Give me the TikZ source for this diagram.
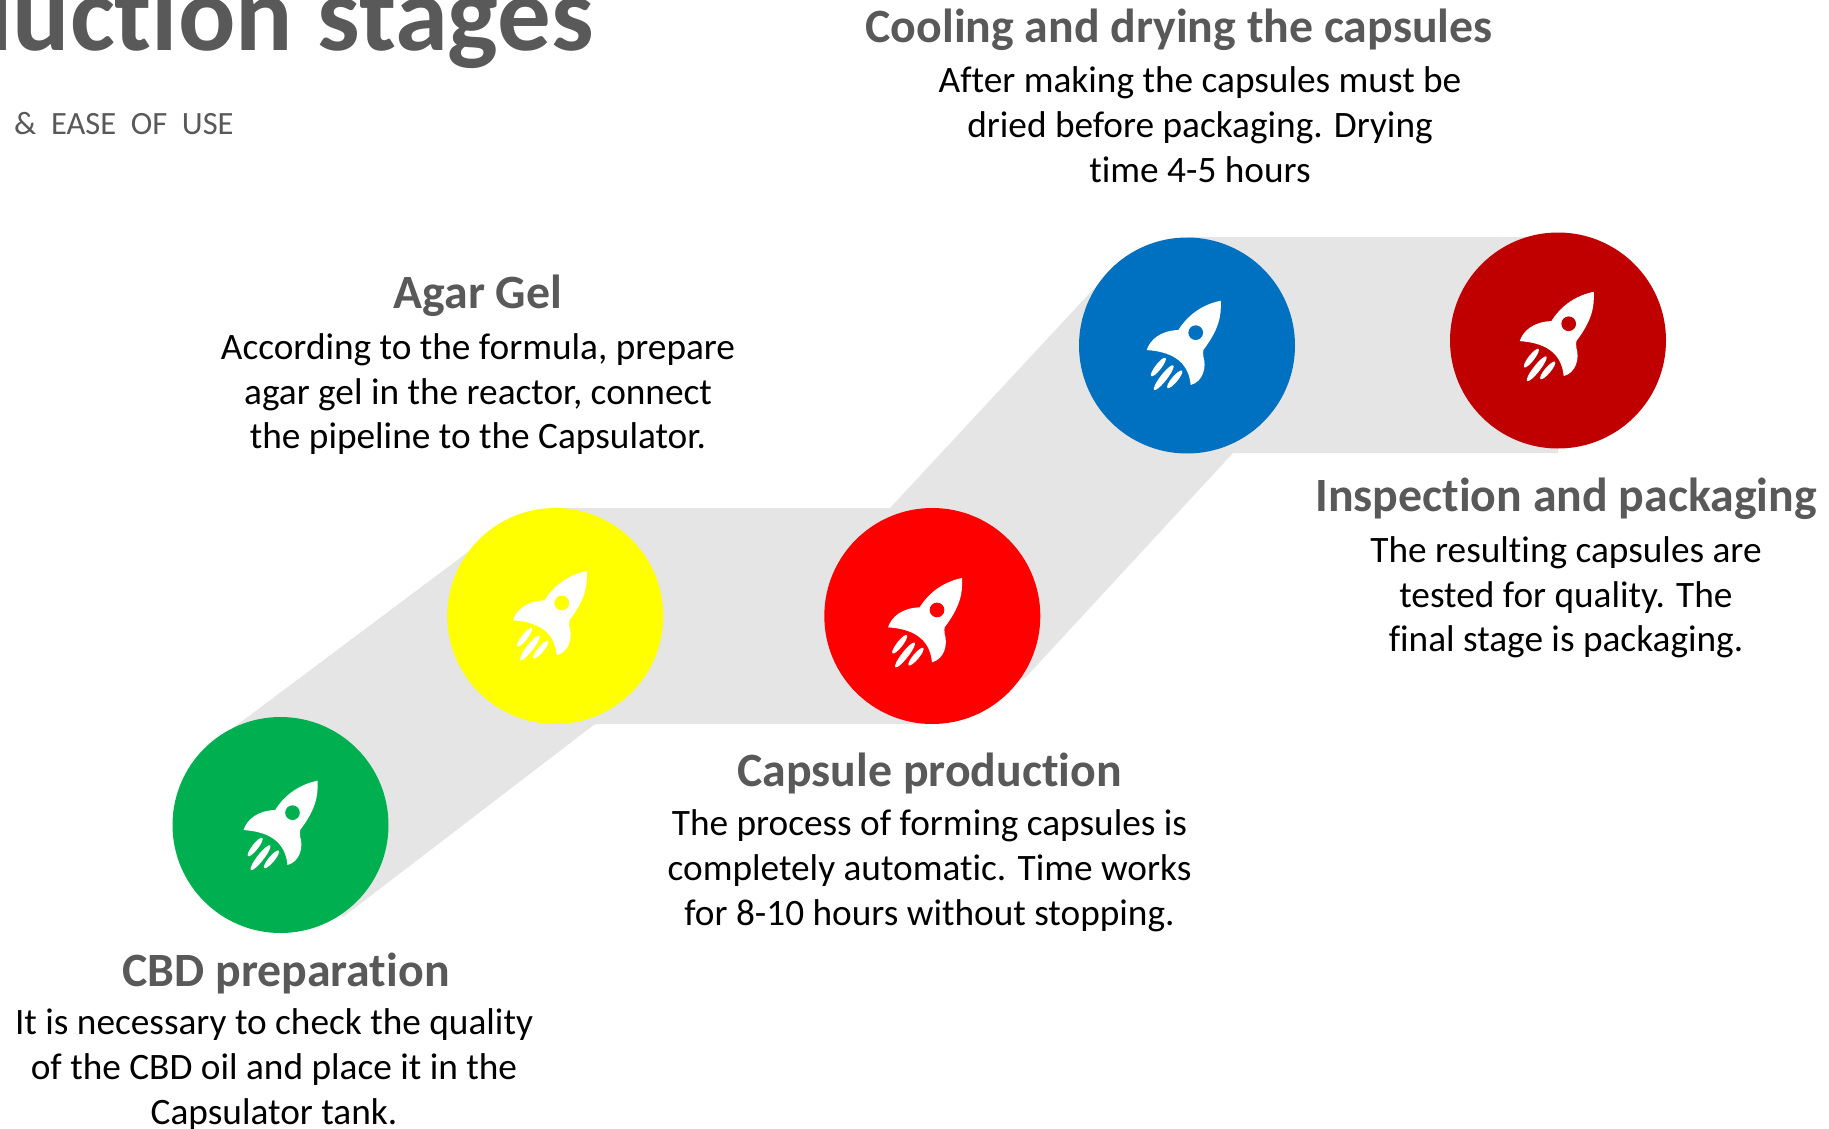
\documentclass[tikz,border=0pt]{standalone}
\usepackage{fontspec}
\setmainfont[Ligatures=NoCommon]{Carlito}
\definecolor{bandgray}{HTML}{E5E5E5}
\definecolor{headgray}{HTML}{595959}
\definecolor{cgreen}{HTML}{00B050}
\definecolor{cyellow}{HTML}{FFFF00}
\definecolor{cred}{HTML}{FF0000}
\definecolor{cblue}{HTML}{0070C0}
\definecolor{cdark}{HTML}{C00000}
\tikzset{
  x=1pt,y=-1pt,
  disc/.style={circle,minimum size=216pt,inner sep=0pt,fill=#1},
  headtext/.style={font=\fontsize{47.8}{54}\selectfont\bfseries,text=headgray,anchor=center,inner sep=0pt},
  bodytext/.style={font=\fontsize{37.3}{44.9}\selectfont,text=black,align=center,anchor=north,inner sep=0pt},
  pics/rocket/.style={code={
    \begin{scope}[x=0.3333pt,y=-0.3333pt]
    \fill[white] (111,-133) .. controls (50,-120) and (9,-85) .. (-16,-45)
      .. controls (-71,-43) and (-101,-15) .. (-111,15)
      .. controls (-41,20) and (14,45) .. (21,120)
      .. controls (59,110) and (69,65) .. (59,35)
      .. controls (58,25) and (58,20) .. (59,15)
      .. controls (104,-45) and (114,-85) .. (111,-133) -- cycle;
    \fill[#1] (36,-37) circle (22);
    \fill[white,rotate around={52:(-76,66)}] (-76,66) ellipse (35 and 9);
    \fill[white,rotate around={52:(-60,98)}] (-60,98) ellipse (47 and 10);
    \fill[white,rotate around={50:(-27,103)}] (-27,103) ellipse (34 and 9);
    \end{scope}
  }}
}
\begin{document}
\begin{tikzpicture}
\useasboundingbox (0,0) rectangle (1829,1129);
\fill[bandgray] (233,728) -- (500,528) -- (555,508) -- (890,508) -- (1100,282) -- (1187,237) -- (1558,237) -- (1558,453) -- (1233,453) -- (1026,677) -- (932,724) -- (595,724) -- (343,917) -- (281,825) -- cycle;
\node[disc=cgreen] (d1) at (280.5,825) {};
\node[disc=cyellow] (d2) at (555.3,616) {};
\node[disc=cred] (d3) at (932.3,616) {};
\node[disc=cblue] (d4) at (1187,345.5) {};
\node[disc=cdark] (d5) at (1558,340.5) {};
\pic at (d1.center) {rocket=cgreen};
\pic at ([shift={(-5.5,-0.7)}]d2.center) {rocket=cyellow};
\pic at ([shift={(-7.3,6.3)}]d3.center) {rocket=cred};
\pic at ([shift={(-3.3,-0.5)}]d4.center) {rocket=cblue};
\pic at ([shift={(-1.3,-4.4)}]d5.center) {rocket=cdark};
\node[font=\fontsize{107}{107}\selectfont\bfseries,text=headgray,anchor=base east,inner sep=0pt] (title) at (594,51) {Production stages};
\node[font=\fontsize{32.5}{36}\selectfont,text=headgray,anchor=base west,inner sep=0pt] (sub) at (14,135) {\&\ \ EASE\ \ OF\ \ USE};
\node[headtext] (h1) at (286,973) {CBD preparation};
\node[bodytext] (b1) at (274,1008.5) {It is necessary to check the quality\\of the CBD oil and place it in the\\Capsulator tank.};
\node[headtext] (h2) at (478,296) {Agar Gel};
\node[bodytext] (b2) at (478,333) {According to the formula, prepare\\agar gel in the reactor, connect\\the pipeline to the Capsulator.};
\node[headtext] (h3) at (929.5,773) {Capsule production};
\node[bodytext] (b3) at (929.5,809.5) {The process of forming capsules is\\completely automatic. Time works\\for 8-10 hours without stopping.};
\node[headtext] (h4) at (1179,30) {Cooling and drying the capsules};
\node[bodytext] (b4) at (1200,66.5) {After making the capsules must be\\dried before packaging. Drying\\time 4-5 hours};
\node[headtext] (h5) at (1566,499) {Inspection and packaging};
\node[bodytext] (b5) at (1566,536) {The resulting capsules are\\tested for quality. The\\final stage is packaging.};
\end{tikzpicture}
\end{document}
